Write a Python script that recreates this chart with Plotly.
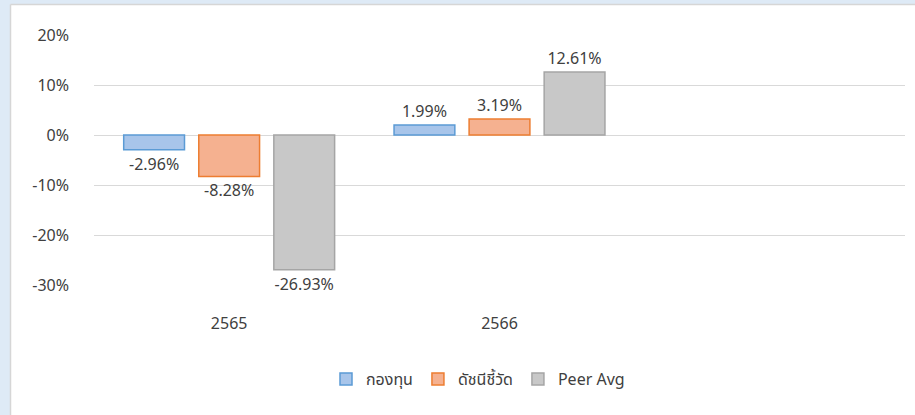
import plotly.graph_objects as go

years = ["2565", "2566"]
fund = [-2.96, 1.99]
index_bm = [-8.28, 3.19]
peer = [-26.93, 12.61]
series_names = ["กองทุน", "ดัชนีชี้วัด", "Peer Avg"]
tick_vals = [-30, -20, -10, 0, 10, 20]
tick_text = ["-30%", "-20%", "-10%", "0%", "10%", "20%"]

W, H = 915, 415
L, R, T, B = 94, 10, 35, 130
pw, ph = W - L - R, H - T - B

def px_x(p):
    return (p - L) / pw

def px_y(p):
    return (H - B - p) / ph

FONT = "Noto Sans, Noto Sans Thai, Tahoma, sans-serif"
FS = 16
fills = ["#A8C5EA", "#F5B190", "#C8C8C8"]
lines = ["#5B9BD5", "#ED7D31", "#A5A5A5"]

fig = go.Figure()
for name, vals, fc, lc in zip(series_names, [fund, index_bm, peer], fills, lines):
    fig.add_trace(go.Bar(
        x=years, y=vals, name=name,
        marker=dict(color=fc, line=dict(color=lc, width=1.5)),
        texttemplate="%{y:.2f}%", textposition="outside",
        textfont=dict(family=FONT, size=FS, color="#404040"),
        cliponaxis=False,
    ))

shapes = [
    dict(type="rect", xref="paper", yref="paper", x0=px_x(0), x1=px_x(10.5),
         y0=px_y(H), y1=px_y(0), fillcolor="#DEEAF6", line=dict(width=0), layer="below"),
    dict(type="rect", xref="paper", yref="paper", x0=px_x(0), x1=px_x(W),
         y0=px_y(4.5), y1=px_y(0), fillcolor="#DEEAF6", line=dict(width=0), layer="below"),
    dict(type="line", xref="paper", yref="paper", x0=px_x(10.5), x1=px_x(10.5),
         y0=px_y(H), y1=px_y(4.5), line=dict(color="#D6D6D6", width=1.5), layer="below"),
    dict(type="line", xref="paper", yref="paper", x0=px_x(10.5), x1=px_x(W),
         y0=px_y(4.5), y1=px_y(4.5), line=dict(color="#D6D6D6", width=1.5), layer="below"),
]

fig.update_layout(
    width=W, height=H,
    margin=dict(l=L, r=R, t=T, b=B, autoexpand=False),
    paper_bgcolor="white", plot_bgcolor="white",
    barmode="group", bargap=0.167, bargroupgap=0.19,
    font=dict(family=FONT, size=FS, color="#404040"),
    shapes=shapes,
    showlegend=True,
    legend=dict(orientation="h", xref="container", yref="container",
                x=478 / W, xanchor="center", y=1 - 379 / H, yanchor="middle",
                font=dict(family=FONT, size=FS, color="#404040"),
                itemwidth=30, tracegroupgap=0,
                bgcolor="rgba(0,0,0,0)"),
    xaxis=dict(type="category", range=[-0.5, 2.5], showgrid=False, showline=False,
               zeroline=False, ticks="outside", ticklen=24, tickcolor="rgba(0,0,0,0)",
               automargin=False,
               tickfont=dict(family=FONT, size=FS, color="#404040")),
    yaxis=dict(range=[-30, 20], tickvals=tick_vals, ticktext=tick_text, showgrid=True,
               gridcolor="#D9D9D9", gridwidth=1, zeroline=True, zerolinecolor="#D9D9D9",
               zerolinewidth=1, showline=False, ticklabelstandoff=24, automargin=False,
               tickfont=dict(family=FONT, size=FS, color="#404040")),
)

fig.write_html("out.html", config={"displayModeBar": False},
               post_script="document.body.style.margin='0';document.body.style.overflow='hidden';")
